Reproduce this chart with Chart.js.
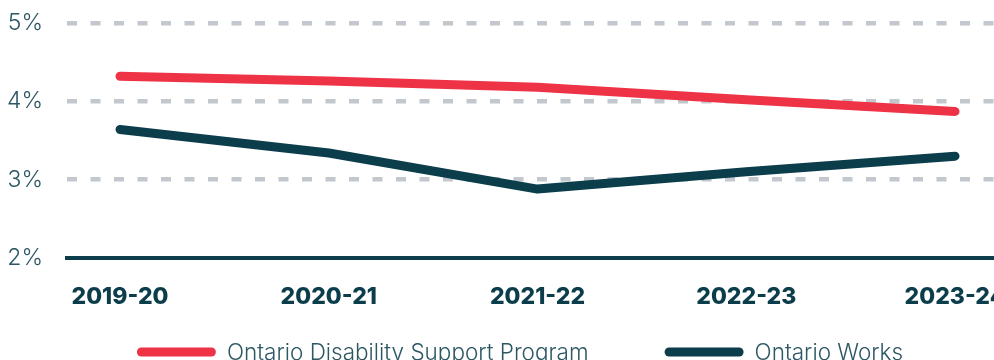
<!DOCTYPE html>
<html>
<head>
<meta charset="utf-8">
<script src="https://cdn.jsdelivr.net/npm/chart.js@4.4.1/dist/chart.umd.min.js"></script>
<style>
  html, body { margin: 0; padding: 0; background: #fff; overflow: hidden; }
  #wrap { position: relative; width: 1040px; height: 385px; }
</style>
</head>
<body>
<div id="wrap"><canvas id="rateChart"></canvas></div>
<script>
// DATA
const years = ["2019-20", "2020-21", "2021-22", "2022-23", "2023-24"];
const odspRates = [4.32, 4.26, 4.18, 4.02, 3.87];
const owRates = [3.64, 3.34, 2.88, 3.1, 3.3];
const yTicks = [2, 3, 4, 5];

const RED = "#ef3347";
const NAVY = "#0b3d4b";
const TEXT = "#2c5763";
const GRID = "#c2c8ce";

const toPoints = (vals) => vals.map((v, i) => ({ x: i, y: v }));

// legend drawn as a long rounded line sample + label, centred under the plot
const lineLegend = {
  id: "lineLegend",
  afterDraw(chart) {
    const { ctx, chartArea } = chart;
    const sets = chart.data.datasets;
    const sample = 79;
    const gap = 11;
    const between = 76;
    ctx.save();
    ctx.font = "300 22.5px Inter";
    const widths = sets.map((d) => ctx.measureText(d.label).width);
    const total =
      widths.reduce((a, w) => a + sample + gap + w, 0) + between * (sets.length - 1);
    let x = (chart.width - total) / 2;
    const y = chartArea.bottom + 94;
    ctx.textBaseline = "middle";
    sets.forEach((d, i) => {
      ctx.strokeStyle = d.borderColor;
      ctx.lineWidth = 9;
      ctx.lineCap = "round";
      ctx.beginPath();
      ctx.moveTo(x + 4.5, y);
      ctx.lineTo(x + sample - 4.5, y);
      ctx.stroke();
      ctx.fillStyle = TEXT;
      ctx.fillText(d.label, x + sample + gap, y + 1);
      x += sample + gap + widths[i] + between;
    });
    ctx.restore();
  },
};

const chart = new Chart(document.getElementById("rateChart"), {
  type: "line",
  data: {
    datasets: [
      {
        label: "Ontario Disability Support Program",
        data: toPoints(odspRates),
        borderColor: RED,
        borderWidth: 9,
        borderCapStyle: "round",
        borderJoinStyle: "round",
        pointRadius: 0,
        tension: 0,
      },
      {
        label: "Ontario Works",
        data: toPoints(owRates),
        borderColor: NAVY,
        borderWidth: 9,
        borderCapStyle: "round",
        borderJoinStyle: "round",
        pointRadius: 0,
        tension: 0,
      },
    ],
  },
  options: {
    responsive: true,
    maintainAspectRatio: false,
    animation: false,
    layout: { padding: { top: 23, left: 0, right: 0, bottom: 77 } },
    scales: {
      x: {
        type: "linear",
        min: -0.254,
        max: 4.407,
        afterBuildTicks: (s) => {
          s.ticks = years.map((_, i) => ({ value: i }));
        },
        afterFit: (s) => {
          s.height = 50;
        },
        ticks: {
          autoSkip: false,
          maxRotation: 0,
          padding: 17,
          color: NAVY,
          font: { family: "Inter", size: 23, weight: "800" },
          callback: (v) => years[v],
        },
        grid: { display: false },
        border: { display: true, color: NAVY, width: 4 },
      },
      y: {
        min: 2,
        max: 5,
        afterBuildTicks: (s) => {
          s.ticks = yTicks.map((v) => ({ value: v }));
        },
        afterFit: (s) => {
          s.width = 67;
          s.paddingTop = 0;
          s.paddingBottom = 0;
        },
        ticks: {
          padding: 24,
          color: TEXT,
          font: { family: "Inter", size: 23, weight: "300" },
          callback: (v) => v + "%",
        },
        grid: {
          drawTicks: false,
          lineWidth: 4.5,
          color: (ctx) => (ctx.tick && ctx.tick.value === 2 ? "rgba(0,0,0,0)" : GRID),
        },
        border: { display: false, dash: [10, 13.5] },
      },
    },
    plugins: {
      tooltip: { enabled: false },
      legend: { display: false },
    },
  },
  plugins: [lineLegend],
});
</script>
</body>
</html>
